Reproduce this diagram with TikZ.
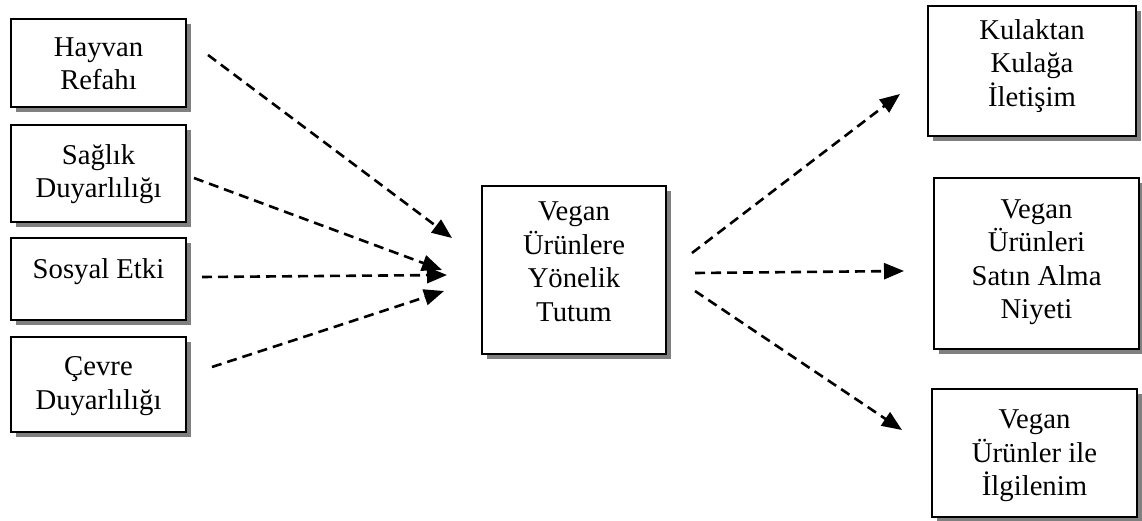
\documentclass[tikz,border=0pt]{standalone}
\usepackage{fontspec}
\setmainfont{Liberation Serif}
\usetikzlibrary{arrows.meta,shadows}

\tikzset{
  box/.style={draw=black, line width=1.8pt, fill=white, inner sep=0pt,
    general shadow={fill=black!50, draw=none, shadow xshift=5pt, shadow yshift=-5pt}},
  label/.style={align=center, inner sep=0pt, font=\fontsize{28.7}{33.5}\selectfont},
  flow/.style={line width=2.6pt, dash pattern=on 10pt off 6pt,
    -{Triangle[length=20pt,width=16pt]}},
}

\begin{document}
\begin{tikzpicture}[x=1pt,y=-1pt]
\useasboundingbox (0,0) rectangle (1142,521);

% left column: antecedents
\node[box, minimum width=175pt, minimum height=88pt] (hayvan) at (98.5,63) {};
\node[label] (hayvan-t) at (98.5,63.5) {Hayvan\\Refahı};

\node[box, minimum width=175pt, minimum height=97pt] (saglik) at (98.5,173.5) {};
\node[label] (saglik-t) at (98.5,174) {Sağlık\\Duyarlılığı};

\node[box, minimum width=175pt, minimum height=82pt] (sosyal) at (98.5,279) {};
\node[label] (sosyal-t) at (98.5,272) {Sosyal Etki};

\node[box, minimum width=175pt, minimum height=95pt] (cevre) at (98.5,384.5) {};
\node[label] (cevre-t) at (98.5,386) {Çevre\\Duyarlılığı};

% centre: attitude
\node[box, minimum width=184pt, minimum height=168pt] (tutum) at (574,270) {};
\node[label] (tutum-t) at (574,261.5) {Vegan\\Ürünlere\\Yönelik\\Tutum};

% right column: outcomes
\node[box, minimum width=208pt, minimum height=130pt] (kulak) at (1032,71) {};
\node[label] (kulak-t) at (1032,66) {Kulaktan\\Kulağa\\İletişim};

\node[box, minimum width=205pt, minimum height=171pt] (niyet) at (1036.5,263.5) {};
\node[label] (niyet-t) at (1036.5,262) {Vegan\\Ürünleri\\Satın Alma\\Niyeti};

\node[box, minimum width=205pt, minimum height=128pt] (ilgi) at (1034.5,453) {};
\node[label] (ilgi-t) at (1034.5,456) {Vegan\\Ürünler ile\\İlgilenim};

% arrow end points
\coordinate (a1s) at (208,55);  \coordinate (a1e) at (452,238);
\coordinate (a2s) at (194,178); \coordinate (a2e) at (442,270);
\coordinate (a3s) at (202,277); \coordinate (a3e) at (447,275);
\coordinate (a4s) at (212,367); \coordinate (a4e) at (444,291);
\coordinate (b1s) at (692,253); \coordinate (b1e) at (900,94);
\coordinate (b2s) at (695,273); \coordinate (b2e) at (904,271);
\coordinate (b3s) at (695,291); \coordinate (b3e) at (902,430);

\draw[flow] (a1s) -- (a1e);
\draw[flow] (a2s) -- (a2e);
\draw[flow] (a3s) -- (a3e);
\draw[flow] (a4s) -- (a4e);
\draw[flow] (b1s) -- (b1e);
\draw[flow] (b2s) -- (b2e);
\draw[flow] (b3s) -- (b3e);
\end{tikzpicture}
\end{document}
